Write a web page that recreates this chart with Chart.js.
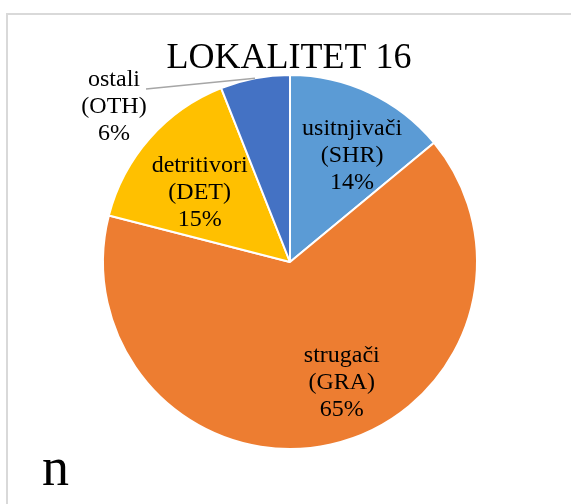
<!DOCTYPE html>
<html>
<head>
<meta charset="utf-8">
<script src="https://cdn.jsdelivr.net/npm/chart.js@4"></script>
<style>
  html, body { margin: 0; padding: 0; background: #fff; }
  #wrap { width: 571px; height: 504px; position: relative; }
</style>
</head>
<body>
<div id="wrap"><canvas id="myChart" width="571" height="504"></canvas></div>
<script>
// podaci
const chartTitle = 'LOKALITET 16';
const categories = ['usitnjivači', 'strugači', 'detritivori', 'ostali'];
const codes = ['(SHR)', '(GRA)', '(DET)', '(OTH)'];
const values = [14, 65, 15, 6];
const colors = ['#5B9BD5', '#ED7D31', '#FFC000', '#4472C4'];

// label placement relative to slice mid angle (deg) and radius fraction
const labelAngleShift = [5, -10.7, -3.8, 0];
const labelRadius = [0.66, 0.70, 0.61, 0];

const serif = '"Liberation Serif", "Times New Roman", serif';

const extras = {
  id: 'extras',
  beforeDraw(chart) {
    const c = chart.ctx;
    c.save();
    c.fillStyle = '#fff';
    c.fillRect(0, 0, chart.width, chart.height);
    c.strokeStyle = '#d9d9d9';
    c.lineWidth = 2;
    c.strokeRect(7, 14, chart.width + 20, chart.height + 20);
    c.restore();
  },
  afterDraw(chart) {
    const c = chart.ctx;
    const arcs = chart.getDatasetMeta(0).data;
    c.save();

    // naslov
    c.fillStyle = '#000';
    c.font = '36px ' + serif;
    c.textAlign = 'center';
    c.textBaseline = 'alphabetic';
    c.fillText(chartTitle, 289, 68);

    c.font = '24px ' + serif;
    c.textBaseline = 'middle';
    const lh = 27;
    arcs.forEach((arc, i) => {
      const mid = (arc.startAngle + arc.endAngle) / 2;
      let x, y;
      if (i === 3) {
        // ostali - outside with leader line
        const ex = arc.x + Math.cos(mid) * arc.outerRadius;
        const ey = arc.y + Math.sin(mid) * arc.outerRadius;
        c.strokeStyle = '#a6a6a6';
        c.lineWidth = 1.5;
        c.beginPath();
        c.moveTo(ex, ey);
        c.lineTo(146, 89);
        c.stroke();
        x = 114; y = 80 + lh;
      } else {
        const a = mid + labelAngleShift[i] * Math.PI / 180;
        x = arc.x + Math.cos(a) * arc.outerRadius * labelRadius[i];
        y = arc.y + Math.sin(a) * arc.outerRadius * labelRadius[i];
      }
      const pct = Math.round(values[i] / values.reduce((s, v) => s + v, 0) * 100) + '%';
      c.fillText(categories[i], x, y - lh);
      c.fillText(codes[i], x, y);
      c.fillText(pct, x, y + lh);
    });

    c.font = '54px ' + serif;
    c.textAlign = 'left';
    c.textBaseline = 'alphabetic';
    c.fillText('n', 42, 485);
    c.restore();
  }
};

const ctx = document.getElementById('myChart').getContext('2d');
new Chart(ctx, {
  type: 'pie',
  data: {
    labels: categories,
    datasets: [{
      data: values,
      backgroundColor: colors,
      borderColor: '#fff',
      borderWidth: 2
    }]
  },
  options: {
    responsive: false,
    animation: false,
    layout: { padding: { left: 102, right: 93, top: 74, bottom: 54 } },
    plugins: {
      legend: { display: false },
      tooltip: { enabled: false },
      title: { display: false }
    }
  },
  plugins: [extras]
});
</script>
</body>
</html>
